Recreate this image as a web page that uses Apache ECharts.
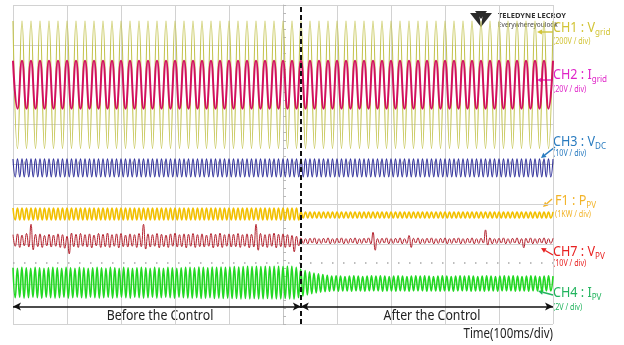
<!DOCTYPE html>
<html>
<head>
<meta charset="utf-8">
<style>
  html, body { margin: 0; padding: 0; background: #fff; }
  #chart { width: 624px; height: 345px; }
</style>
<script src="https://cdn.jsdelivr.net/npm/echarts@6/dist/echarts.min.js"></script>
</head>
<body>
<div id="chart"></div>
<script>
// screen time in ms (10 div x 100 ms/div), values in divisions from screen centre
const T_START = -500
const T_END = 500
const T_CONTROL = 33 // control switched on (dashed line)
const ARROW_LEVEL = -3.56
const MARKER_LEVEL = -2.46

// 60 Hz traces: successive peaks / troughs
const vGrid = [
  3.6,0.4,3.6,0.4,3.6,0.4,3.6,0.4,3.6,0.4,3.6,0.4,3.6,0.4,3.6,0.4,3.6,0.4,3.6,0.4,
  3.6,0.4,3.6,0.4,3.6,0.4,3.6,0.4,3.6,0.4,3.6,0.4,3.6,0.4,3.6,0.4,3.6,0.4,3.6,0.4,
  3.6,0.4,3.6,0.4,3.6,0.4,3.6,0.4,3.6,0.4,3.6,0.4,3.6,0.4,3.6,0.4,3.6,0.4,3.6,0.4,
  3.6,0.4,3.6,0.4,3.6,0.4,3.6,0.4,3.6,0.4,3.6,0.4,3.6,0.4,3.6,0.4,3.6,0.4,3.6,0.4,
  3.6,0.4,3.6,0.4,3.6,0.4,3.6,0.4,3.6,0.4,3.6,0.4,3.6,0.4,3.6,0.4,3.6,0.4,3.6,0.4,
  3.6,0.4,3.6,0.4,3.6,0.4,3.6,0.4,3.6,0.4,3.6,0.4,3.6,0.4,3.6,0.4,3.6,0.4,3.6,0.4,
  3.6
]
const iGrid = [
  2.6,1.4,2.6,1.4,2.6,1.4,2.6,1.4,2.6,1.4,2.6,1.4,2.6,1.4,2.6,1.4,2.6,1.4,2.6,1.4,
  2.6,1.4,2.6,1.4,2.6,1.4,2.6,1.4,2.6,1.4,2.6,1.4,2.6,1.4,2.6,1.4,2.6,1.4,2.6,1.4,
  2.6,1.4,2.6,1.4,2.6,1.4,2.6,1.4,2.6,1.4,2.6,1.4,2.6,1.4,2.6,1.4,2.6,1.4,2.6,1.4,
  2.6,1.4,2.6,1.4,2.6,1.4,2.6,1.4,2.6,1.4,2.6,1.4,2.6,1.4,2.6,1.4,2.6,1.4,2.6,1.4,
  2.6,1.4,2.6,1.4,2.6,1.4,2.6,1.4,2.6,1.4,2.6,1.4,2.6,1.4,2.6,1.4,2.6,1.4,2.6,1.4,
  2.6,1.4,2.6,1.4,2.6,1.4,2.6,1.4,2.6,1.4,2.6,1.4,2.6,1.4,2.6,1.4,2.6,1.4,2.6,1.4,
  2.6
]

// 120 Hz traces: successive peaks / troughs
const vDc = [
  0.14,-0.31,0.14,-0.31,0.14,-0.31,0.14,-0.31,0.14,-0.31,0.14,-0.31,0.14,-0.31,0.14,-0.31,0.14,-0.31,0.14,-0.31,
  0.14,-0.31,0.14,-0.31,0.14,-0.31,0.14,-0.31,0.14,-0.31,0.14,-0.31,0.14,-0.31,0.14,-0.31,0.14,-0.31,0.14,-0.31,
  0.14,-0.31,0.14,-0.31,0.14,-0.31,0.14,-0.31,0.14,-0.31,0.14,-0.31,0.14,-0.31,0.14,-0.31,0.14,-0.31,0.14,-0.31,
  0.14,-0.31,0.14,-0.31,0.14,-0.31,0.14,-0.31,0.14,-0.31,0.14,-0.31,0.14,-0.31,0.14,-0.31,0.14,-0.31,0.14,-0.31,
  0.14,-0.31,0.14,-0.31,0.14,-0.31,0.14,-0.31,0.14,-0.31,0.14,-0.31,0.14,-0.31,0.14,-0.31,0.14,-0.31,0.14,-0.31,
  0.14,-0.31,0.14,-0.31,0.14,-0.31,0.14,-0.31,0.14,-0.31,0.14,-0.31,0.14,-0.31,0.14,-0.31,0.14,-0.31,0.14,-0.31,
  0.14,-0.31,0.14,-0.31,0.14,-0.31,0.14,-0.31,0.14,-0.31,0.14,-0.31,0.14,-0.31,0.14,-0.31,0.14,-0.31,0.14,-0.31,
  0.14,-0.31,0.14,-0.31,0.14,-0.31,0.14,-0.31,0.14,-0.31,0.14,-0.31,0.14,-0.31,0.14,-0.31,0.14,-0.31,0.14,-0.31,
  0.14,-0.31,0.14,-0.31,0.14,-0.31,0.14,-0.31,0.14,-0.31,0.14,-0.31,0.14,-0.31,0.14,-0.31,0.14,-0.31,0.14,-0.31,
  0.14,-0.31,0.14,-0.31,0.14,-0.31,0.14,-0.31,0.14,-0.31,0.14,-0.31,0.14,-0.31,0.14,-0.31,0.14,-0.31,0.14,-0.31,
  0.14,-0.31,0.14,-0.31,0.14,-0.31,0.14,-0.31,0.14,-0.31,0.14,-0.31,0.14,-0.31,0.14,-0.31,0.14,-0.31,0.14,-0.31,
  0.14,-0.31,0.14,-0.31,0.14,-0.31,0.14,-0.31,0.14,-0.31,0.14,-0.31,0.14,-0.31,0.14,-0.31,0.14,-0.31,0.14,-0.31,
  0.14
]
const pPv = [
  -1.09,-1.39,-1.09,-1.39,-1.09,-1.39,-1.09,-1.39,-1.09,-1.39,-1.09,-1.39,-1.09,-1.39,-1.09,-1.39,-1.09,-1.39,-1.09,-1.39,
  -1.09,-1.39,-1.09,-1.39,-1.09,-1.39,-1.09,-1.39,-1.09,-1.39,-1.09,-1.39,-1.09,-1.39,-1.09,-1.39,-1.09,-1.39,-1.09,-1.39,
  -1.09,-1.39,-1.09,-1.39,-1.09,-1.39,-1.09,-1.39,-1.09,-1.39,-1.09,-1.39,-1.09,-1.39,-1.09,-1.39,-1.09,-1.39,-1.09,-1.39,
  -1.09,-1.39,-1.09,-1.39,-1.09,-1.39,-1.09,-1.39,-1.09,-1.39,-1.09,-1.39,-1.09,-1.39,-1.09,-1.39,-1.09,-1.39,-1.09,-1.39,
  -1.09,-1.39,-1.09,-1.39,-1.09,-1.39,-1.09,-1.39,-1.09,-1.39,-1.09,-1.39,-1.09,-1.39,-1.09,-1.39,-1.09,-1.39,-1.09,-1.39,
  -1.09,-1.39,-1.09,-1.39,-1.09,-1.39,-1.09,-1.39,-1.09,-1.39,-1.09,-1.39,-1.09,-1.39,-1.09,-1.39,-1.09,-1.39,-1.09,-1.39,
  -1.09,-1.39,-1.09,-1.39,-1.09,-1.39,-1.09,-1.39,
  -1.19,-1.34,-1.19,-1.34,-1.19,-1.34,-1.19,-1.34,-1.19,-1.34,-1.19,-1.34,
  -1.19,-1.34,-1.19,-1.34,-1.19,-1.34,-1.19,-1.34,-1.19,-1.34,-1.19,-1.34,-1.19,-1.34,-1.19,-1.34,-1.19,-1.34,-1.19,-1.34,
  -1.19,-1.34,-1.19,-1.34,-1.19,-1.34,-1.19,-1.34,-1.19,-1.34,-1.19,-1.34,-1.19,-1.34,-1.19,-1.34,-1.19,-1.34,-1.19,-1.34,
  -1.19,-1.34,-1.19,-1.34,-1.19,-1.34,-1.19,-1.34,-1.19,-1.34,-1.19,-1.34,-1.19,-1.34,-1.19,-1.34,-1.19,-1.34,-1.19,-1.34,
  -1.19,-1.34,-1.19,-1.34,-1.19,-1.34,-1.19,-1.34,-1.19,-1.34,-1.19,-1.34,-1.19,-1.34,-1.19,-1.34,-1.19,-1.34,-1.19,-1.34,
  -1.19,-1.34,-1.19,-1.34,-1.19,-1.34,-1.19,-1.34,-1.19,-1.34,-1.19,-1.34,-1.19,-1.34,-1.19,-1.34,-1.19,-1.34,-1.19,-1.34,
  -1.19
]
const vPv = [
  -1.76,-2.05,-1.74,-2.08,-1.77,-2.04,-1.73,-2.07,-1.50,-2.14,-1.75,-2.06,-1.74,-2.08,-1.78,-2.04,-1.75,-2.07,-1.77,-2.05,
  -1.74,-2.08,-1.76,-2.10,-1.80,-2.24,-1.72,-2.06,-1.75,-2.08,-1.73,-2.05,-1.76,-2.07,-1.74,-2.09,-1.77,-2.04,-1.73,-2.08,
  -1.75,-2.06,-1.72,-2.08,-1.76,-2.05,-1.74,-2.09,-1.73,-2.06,-1.77,-2.07,-1.74,-2.05,-1.76,-2.08,-1.73,-2.06,-1.50,-2.12,
  -1.74,-2.07,-1.76,-2.05,-1.73,-2.09,-1.75,-2.06,-1.77,-2.08,-1.74,-2.05,-1.72,-2.07,-1.76,-2.06,-1.74,-2.09,-1.75,-2.05,
  -1.73,-2.08,-1.76,-2.06,-1.74,-2.07,-1.77,-2.05,-1.73,-2.09,-1.75,-2.06,-1.72,-2.08,-1.76,-2.05,-1.74,-2.07,-1.75,-2.06,
  -1.73,-2.08,-1.76,-2.05,-1.74,-2.09,-1.75,-2.07,-1.50,-2.15,-1.73,-2.06,-1.76,-2.08,-1.74,-2.05,-1.72,-2.09,-1.75,-2.06,
  -1.74,-2.08,-1.76,-2.07,-1.78,-2.19,-1.80,-2.04,
  -1.84,-1.98,-1.86,-1.99,-1.85,-1.97,-1.84,-1.99,-1.86,-1.98,-1.85,-1.97,
  -1.84,-1.99,-1.86,-1.98,-1.85,-1.97,-1.84,-1.99,-1.86,-1.98,-1.85,-1.97,-1.84,-1.99,-1.86,-1.98,-1.85,-1.97,-1.84,-1.99,
  -1.70,-2.15,-1.86,-1.98,-1.85,-1.97,-1.84,-1.99,-1.86,-1.98,-1.85,-1.97,-1.84,-1.99,-1.86,-1.98,-1.78,-2.08,-1.85,-1.97,
  -1.84,-1.99,-1.86,-1.98,-1.85,-1.97,-1.84,-1.99,-1.86,-1.98,-1.85,-1.97,-1.84,-1.99,-1.86,-1.98,-1.85,-1.97,-1.84,-1.99,
  -1.86,-1.98,-1.85,-1.97,-1.84,-1.99,-1.86,-1.98,-1.85,-1.97,-1.64,-2.02,-1.84,-1.99,-1.86,-1.98,-1.85,-1.97,-1.84,-1.99,
  -1.86,-1.98,-1.85,-1.97,-1.84,-1.99,-1.86,-2.09,-1.85,-1.97,-1.84,-1.99,-1.86,-1.98,-1.85,-1.97,-1.84,-1.99,-1.86,-1.98,
  -1.85
]
const iPv = [
  -2.59,-3.34,-2.60,-3.33,-2.58,-3.35,-2.59,-3.34,-2.60,-3.33,-2.58,-3.34,-2.59,-3.35,-2.60,-3.33,-2.59,-3.34,-2.58,-3.35,
  -2.59,-3.34,-2.60,-3.33,-2.58,-3.35,-2.59,-3.34,-2.60,-3.33,-2.58,-3.34,-2.59,-3.35,-2.60,-3.33,-2.59,-3.34,-2.58,-3.35,
  -2.59,-3.34,-2.60,-3.33,-2.58,-3.35,-2.59,-3.34,-2.60,-3.33,-2.58,-3.34,-2.59,-3.35,-2.60,-3.33,-2.59,-3.34,-2.58,-3.35,
  -2.59,-3.34,-2.60,-3.33,-2.58,-3.35,-2.59,-3.34,-2.60,-3.33,-2.58,-3.34,-2.59,-3.35,-2.60,-3.33,-2.59,-3.34,-2.58,-3.35,
  -2.58,-3.35,-2.59,-3.34,-2.57,-3.36,-2.58,-3.35,-2.59,-3.34,-2.57,-3.36,-2.58,-3.35,-2.57,-3.36,-2.58,-3.35,-2.57,-3.36,
  -2.56,-3.36,-2.57,-3.37,-2.56,-3.36,-2.55,-3.37,-2.56,-3.36,-2.55,-3.37,-2.56,-3.37,-2.55,-3.36,-2.56,-3.37,-2.55,-3.37,
  -2.55,-3.37,-2.56,-3.36,-2.55,-3.37,-2.55,-3.37,
  -2.58,-3.34,-2.62,-3.30,-2.66,-3.27,-2.69,-3.24,-2.72,-3.22,-2.74,-3.20,-2.76,-3.19,-2.78,-3.18,
  -2.80,-3.17,-2.79,-3.18,-2.80,-3.17,-2.81,-3.17,-2.80,-3.18,-2.79,-3.17,-2.80,-3.17,-2.81,-3.18,-2.80,-3.17,-2.79,-3.17,
  -2.80,-3.17,-2.79,-3.18,-2.80,-3.17,-2.81,-3.17,-2.80,-3.18,-2.79,-3.17,-2.80,-3.17,-2.81,-3.18,-2.80,-3.17,-2.79,-3.17,
  -2.80,-3.17,-2.79,-3.18,-2.80,-3.17,-2.81,-3.17,-2.80,-3.18,-2.79,-3.17,-2.80,-3.17,-2.81,-3.18,-2.80,-3.17,-2.79,-3.17,
  -2.80,-3.17,-2.79,-3.18,-2.80,-3.17,-2.81,-3.17,-2.80,-3.18,-2.79,-3.17,-2.80,-3.17,-2.81,-3.18,-2.80,-3.17,-2.79,-3.17,
  -2.80,-3.17,-2.79,-3.18,-2.80,-3.17,-2.81,-3.17,-2.80,-3.18,-2.79,-3.17,-2.80,-3.17,-2.81,-3.18,-2.80,-3.17,-2.79,-3.17,
  -2.80
]

const chNames = ['CH1 : V', 'CH2 : I', 'CH3 : V', 'F1 : P', 'CH7 : V', 'CH4 : I']
const chSubs = ['grid', 'grid', 'DC', 'PV', 'PV', 'PV']
const chScales = ['(200V / div)', '(20V / div)', '(10V / div)', '(1KW / div)', '(10V / div)', '(2V / div)']
const phaseLabels = ['Before the Control', 'After the Control']
const timeLabel = 'Time(100ms/div)'

const traceColors = ['#c2c24a', '#d2105e', '#34349c', '#f2c000', '#b3202c', '#22d822']
const labelColors = ['#d2c436', '#e024c8', '#2a7cc0', '#f2b42a', '#e82222', '#22b45e']
const FONT = '"Noto Sans", sans-serif'

const toSamples = (values) => {
  const step = (T_END - T_START) / (values.length - 1)
  return values.map((v, i) => [T_START + i * step, v])
}

const chart = echarts.init(document.getElementById('chart'))

const arrow = (x1, y1, x2, y2, color) => {
  const a = Math.atan2(y2 - y1, x2 - x1)
  const L = 5, W = 2.6
  const bx = x2 - L * Math.cos(a), by = y2 - L * Math.sin(a)
  return [
    { type: 'line', shape: { x1, y1, x2: bx, y2: by }, style: { stroke: color, lineWidth: 1.4 } },
    { type: 'polygon', shape: { points: [[x2, y2], [bx - W * Math.sin(a), by + W * Math.cos(a)], [bx + W * Math.sin(a), by - W * Math.cos(a)]] }, style: { fill: color } }
  ]
}

const labelY = [28, 75, 142, 201, 252, 293]
const labelX = [553, 553, 553, 555, 553, 553]
const scaleY = [42, 90, 154, 215, 264, 308]
const arrows = [
  [553, 32, 537, 32], [553, 80, 537, 80], [555, 147, 541, 158],
  [552, 199, 543, 207], [553, 255, 541, 248], [553, 295, 538, 291]
]

const graphic = []
chNames.forEach((name, k) => {
  const c = labelColors[k]
  graphic.push({
    type: 'text', x: labelX[k], y: labelY[k], scaleX: 0.9,
    style: {
      text: '{m|' + name + '}{s|' + chSubs[k] + '}',
      verticalAlign: 'middle',
      rich: {
        m: { fontSize: 14, fontFamily: FONT, fill: c, lineHeight: 18 },
        s: { fontSize: 9, fontFamily: FONT, fill: c, padding: [9, 0, 0, 0] }
      }
    }
  })
  graphic.push({
    type: 'text', x: labelX[k], y: scaleY[k], scaleX: 0.9,
    style: { text: chScales[k], fontSize: 8, fontFamily: FONT, fill: c, verticalAlign: 'middle' }
  })
  graphic.push(...arrow(...arrows[k], c))
})
graphic.push(
  { type: 'text', x: 160, y: 316, scaleX: 0.88, style: { text: phaseLabels[0], fontSize: 14, fontFamily: FONT, fill: '#222', align: 'center', verticalAlign: 'middle' } },
  { type: 'text', x: 432, y: 316, scaleX: 0.88, style: { text: phaseLabels[1], fontSize: 14, fontFamily: FONT, fill: '#222', align: 'center', verticalAlign: 'middle' } },
  { type: 'text', x: 553, y: 334, scaleX: 0.82, style: { text: timeLabel, fontSize: 14, fontFamily: FONT, fill: '#222', align: 'right', verticalAlign: 'middle' } },
  // Teledyne LeCroy mark
  { type: 'polygon', shape: { points: [[470, 13], [479, 13], [481, 27]] }, style: { fill: '#2a2a2a' } },
  { type: 'polygon', shape: { points: [[483, 13], [492, 13], [481, 27]] }, style: { fill: '#2a2a2a' } },
  { type: 'polygon', shape: { points: [[475, 11], [487, 11], [481, 19]] }, style: { fill: '#2a2a2a' } },
  { type: 'text', x: 498, y: 16, style: { text: 'TELEDYNE LECROY', fontSize: 7.5, fontWeight: 'bold', fontFamily: FONT, fill: '#333', verticalAlign: 'middle' } },
  { type: 'text', x: 498, y: 25, style: { text: 'Everywhereyoulook', fontSize: 6.5, fontFamily: FONT, fill: '#444', verticalAlign: 'middle' } }
)

const trace = (name, values, k, width) => ({
  name, type: 'line', data: toSamples(values), smooth: 0.5, symbol: 'none',
  lineStyle: { color: traceColors[k], width }, silent: true
})

const series = [
  trace('Vgrid', vGrid, 0, 1.1),
  trace('Igrid', iGrid, 1, 2),
  trace('VDC', vDc, 2, 1.1),
  trace('PPV', pPv, 3, 1.6),
  trace('VPV', vPv, 4, 1),
  trace('IPV', iPv, 5, 1.6)
]
series[3].markLine = {
  silent: true, animation: false, symbol: ['arrow', 'arrow'], symbolSize: [6, 8],
  label: { show: false },
  lineStyle: { color: '#111', width: 1.5, type: 'solid' },
  data: [
    [{ coord: [T_START, ARROW_LEVEL] }, { coord: [T_CONTROL, ARROW_LEVEL] }],
    [{ coord: [T_CONTROL, ARROW_LEVEL] }, { coord: [T_END, ARROW_LEVEL] }]
  ]
}
series[4].markLine = {
  silent: true, animation: false, symbol: 'none', label: { show: false },
  lineStyle: { color: '#a8a8a8', width: 1.5, type: [1.5, 9.5] },
  data: [{ yAxis: MARKER_LEVEL }]
}
series[5].markLine = {
  silent: true, animation: false, symbol: 'none', label: { show: false },
  lineStyle: { color: '#111', width: 2, type: [5, 3] },
  data: [{ xAxis: T_CONTROL }]
}

const option = {
  animation: false,
  backgroundColor: '#fff',
  grid: { left: 13, top: 5, width: 540, height: 319 },
  xAxis: {
    type: 'value', min: T_START, max: T_END, interval: 100,
    axisLabel: { show: false },
    axisLine: { show: true, onZero: true, lineStyle: { color: '#c4c4c4' } },
    axisTick: { show: true, inside: true, length: 3, lineStyle: { color: '#b8b8b8' } },
    minorTick: { show: true, splitNumber: 5, length: 3, lineStyle: { color: '#b8b8b8' } },
    splitLine: { show: true, lineStyle: { color: '#d2d2d2' } }
  },
  yAxis: {
    type: 'value', min: -4, max: 4, interval: 1,
    axisLabel: { show: false },
    axisLine: { show: true, onZero: true, lineStyle: { color: '#c4c4c4' } },
    axisTick: { show: true, inside: true, length: 3, lineStyle: { color: '#b8b8b8' } },
    minorTick: { show: true, splitNumber: 5, length: 3, lineStyle: { color: '#b8b8b8' } },
    splitLine: { show: true, lineStyle: { color: '#d2d2d2' } }
  },
  graphic,
  series
}
chart.setOption(option)
</script>
</body>
</html>
